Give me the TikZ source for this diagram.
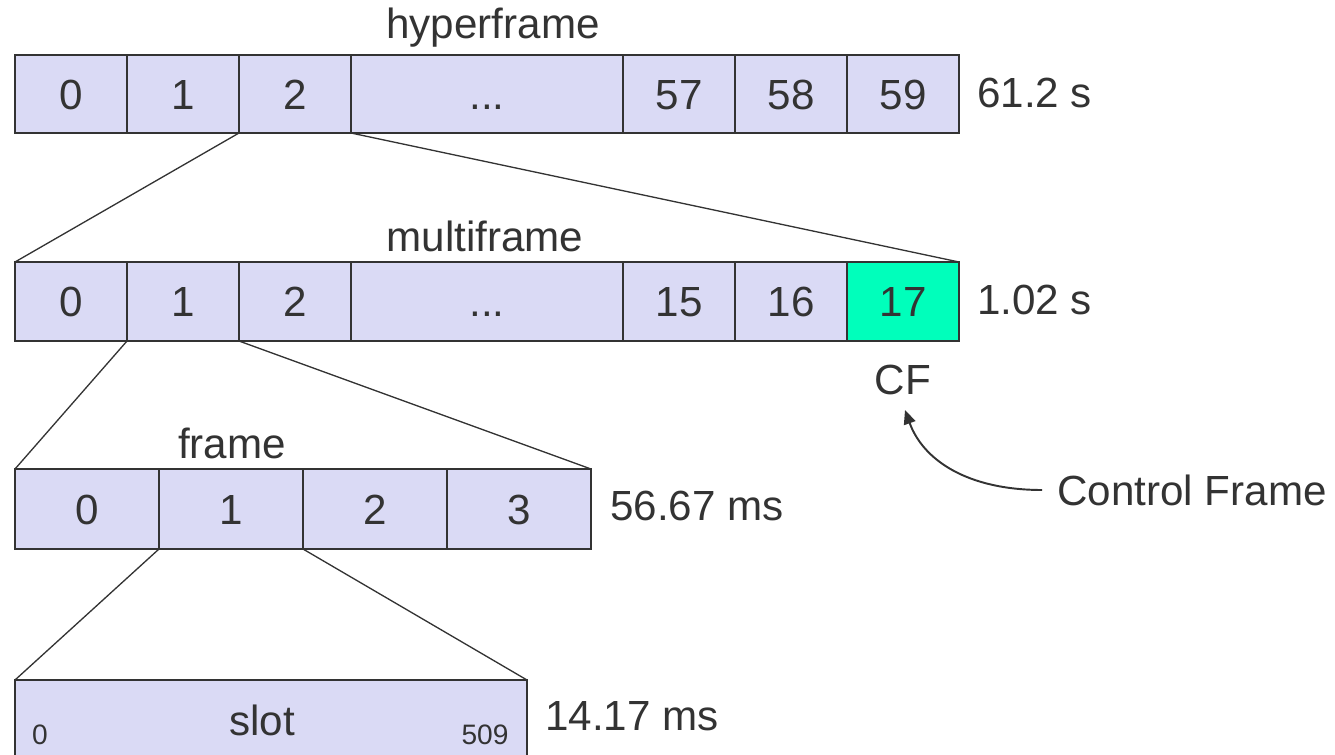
\documentclass[tikz,border=0pt]{standalone}
\usepackage{fontspec}
\setmainfont{Liberation Sans}
\usetikzlibrary{positioning,arrows.meta}
\definecolor{cellfill}{HTML}{DADAF5}
\definecolor{ctrlfill}{HTML}{00FFBB}
\definecolor{ink}{HTML}{333333}
\newcommand{\cellgap}{...}
\tikzset{
  cell/.style={draw=ink,line width=1.1pt,fill=cellfill,text=ink,inner sep=0pt,outer sep=0pt,
    text height=17.2pt,text depth=0pt,font=\fontsize{24}{28}\selectfont},
  lbl/.style={text=ink,font=\fontsize{24}{28}\selectfont},
  small/.style={text=ink,font=\fontsize{16}{19}\selectfont},
  zoomline/.style={draw=ink,line width=0.75pt},
}
\begin{document}
\begin{tikzpicture}[x=0.02cm,y=-0.02cm]
\useasboundingbox (0,0) rectangle (1335,754);
% Hyperframe
\node[lbl] (hyperlbl) at (493,28) {hyperframe};
\foreach \n/\t/\cx/\w in {0/0/71/112,1/1/183/112,2/2/295/112,d/\cellgap/487/272,57/57/679/112,58/58/791/112,59/59/903/112}
  \node[cell,minimum width=\w*0.02cm,minimum height=78*0.02cm] (h\n) at (\cx,94) {\t};
\node[lbl,anchor=west] (hdur) at (971,93) {61.2 s};
% Multiframe
\node[lbl] (multilbl) at (485,236) {multiframe};
\foreach \n/\t/\cx/\w in {0/0/71/112,1/1/183/112,2/2/295/112,d/\cellgap/487/272,15/15/679/112,16/16/791/112}
  \node[cell,minimum width=\w*0.02cm,minimum height=79*0.02cm] (m\n) at (\cx,301.5) {\t};
\node[cell,fill=ctrlfill,minimum width=112*0.02cm,minimum height=79*0.02cm] (m17) at (903,301.5) {17};
\node[lbl,anchor=west] (mdur) at (971,300) {1.02 s};
\node[lbl] (cf) at (903,380) {CF};
\draw[zoomline] (h2.south west) -- (m0.north west);
\draw[zoomline] (h2.south east) -- (m17.north east);
% Frame
\node[lbl] (framelbl) at (232,443) {frame};
\foreach \n/\cx in {0/87,1/231,2/375,3/519}
  \node[cell,minimum width=144*0.02cm,minimum height=80*0.02cm] (f\n) at (\cx,509) {\n};
\node[lbl,anchor=west] (fdur) at (604,506) {56.67 ms};
\draw[zoomline] (m1.south west) -- (f0.north west);
\draw[zoomline] (m1.south east) -- (f3.north east);
% Slot
\node[cell,minimum width=512*0.02cm,minimum height=100*0.02cm] (slot) at (271,730) {};
\node[lbl] (slotlbl) at (262,720) {slot};
\node[small] (slotfirst) at (40,735) {0};
\node[small] (slotlast) at (485,735) {509};
\node[lbl,anchor=west] (sdur) at (539,716) {14.17 ms};
\draw[zoomline] (f1.south west) -- (slot.north west);
\draw[zoomline] (f1.south east) -- (slot.north east);
% Control frame pointer
\node[lbl,anchor=west] (ctrl) at (1051,490) {Control Frame};
\coordinate (cftip) at (905,410);
\draw[ink,line width=1.1pt,-{Triangle[length=0.28cm,width=0.24cm]}]
  ([xshift=-5pt]ctrl.west) .. controls +(-75,0) and +(18,50) .. (cftip);
\end{tikzpicture}
\end{document}
